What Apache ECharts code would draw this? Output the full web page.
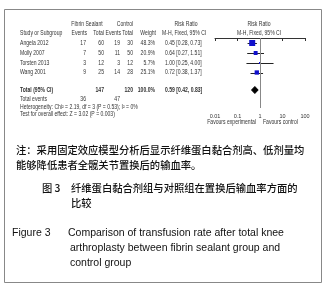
<!DOCTYPE html>
<html><head><meta charset="utf-8">
<script src="https://cdn.jsdelivr.net/npm/echarts@6/dist/echarts.min.js"></script>
<style>html,body{margin:0;padding:0;background:#fff}#c{width:328px;height:287px}</style>
</head><body><div id="c"></div>
<script>
// ---- data ----
const studies = ['Angela 2012', 'Molly 2007', 'Torsten 2013', 'Wang 2001'];
const fsEvents = [17, 7, 3, 9];
const fsTotal = [60, 50, 12, 25];
const ctlEvents = [19, 11, 3, 14];
const ctlTotal = [30, 50, 12, 28];
const weights = [48.3, 20.9, 5.7, 25.1];
const rr = [0.45, 0.64, 1.00, 0.72];
const ciLow = [0.28, 0.27, 0.25, 0.38];
const ciHigh = [0.73, 1.51, 4.00, 1.37];
const studyRows = [0.5, 1.5, 2.5, 3.45];
const totalRow = 5.2;
const totalEst = [0.59, 0.42, 0.83];
const totalFS = 147, totalCtl = 120, totalEventsFS = 36, totalEventsCtl = 47;
const tickLabels = ['0.01', '0.1', '1', '10', '100'];
const hetText = 'Heterogeneity: Chi² = 2.19, df = 3 (P = 0.53); I² = 0%';
const testText = 'Test for overall effect: Z = 3.02 (P = 0.003)';
const noteLines = ['注：采用固定效应模型分析后显示纤维蛋白黏合剂高、低剂量均', '能够降低患者全髋关节置换后的输血率。'];
const captionCN = ['图 3', '纤维蛋白黏合剂组与对照组在置换后输血率方面的', '比较'];
const captionEN = ['Figure 3', 'Comparison of transfusion rate after total knee', 'arthroplasty between fibrin sealant group and', 'control group'];

// ---- layout ----
const F = '"Liberation Sans", Arial, sans-serif';
const FS = 6.5;
const SX = 0.78;
const TC = '#333';
const GRID_TOP = 38, ROW_PX = 10;
const rowY = r => GRID_TOP + r * ROW_PX;

const g = [];
function t(text, x, y, align, opts, sx) {
  g.push({type: 'text', x: x, y: y, scaleX: sx == null ? SX : sx, style: Object.assign({
    text: text, fill: TC, font: FS + 'px ' + F, textAlign: align || 'left', textVerticalAlign: 'middle'
  }, (opts || {}))});
}
// headers
t('Fibrin Sealant', 87, 24, 'center');
t('Control', 125, 24, 'center');
t('Risk Ratio', 186, 24, 'center');
t('Risk Ratio', 259, 24, 'center');
t('Study or Subgroup', 20, 33);
t('Events', 87, 33, 'right');
t('Total', 104, 33, 'right');
t('Events', 121, 33, 'right');
t('Total', 133, 33, 'right');
t('Weight', 156, 33, 'right');
t('M-H, Fixed, 95% CI', 162, 33);
t('M-H, Fixed, 95% CI', 259, 33, 'center');
const f2 = v => v.toFixed(2);
studies.forEach((s, i) => {
  const y = rowY(studyRows[i]);
  t(s, 20, y);
  t(String(fsEvents[i]), 86, y, 'right');
  t(String(fsTotal[i]), 104, y, 'right');
  t(String(ctlEvents[i]), 120, y, 'right');
  t(String(ctlTotal[i]), 133, y, 'right');
  t(weights[i].toFixed(1) + '%', 155, y, 'right');
  t(f2(rr[i]) + ' [' + f2(ciLow[i]) + ', ' + f2(ciHigh[i]) + ']', 165, y);
});
const ty = rowY(totalRow);
const bold = {font: 'bold ' + FS + 'px ' + F};
t('Total (95% CI)', 20, ty, 'left', bold);
t(String(totalFS), 104, ty, 'right', bold);
t(String(totalCtl), 133, ty, 'right', bold);
t('100.0%', 155, ty, 'right', bold);
t(f2(totalEst[0]) + ' [' + f2(totalEst[1]) + ', ' + f2(totalEst[2]) + ']', 165, ty, 'left', bold);
t('Total events', 20, 99);
t(String(totalEventsFS), 86, 99, 'right');
t(String(totalEventsCtl), 120, 99, 'right');
t(hetText, 20, 107);
t(testText, 20, 114);
t('Favours experimental', 256, 122, 'right');
t('Favours control', 263, 122, 'left');

// notes & captions
const CJK = '"Noto Sans CJK SC", sans-serif';
const cn = {font: '500 10.3px ' + CJK, fill: '#111'};
t(noteLines[0], 16, 150, 'left', cn, 1);
t(noteLines[1], 16, 165, 'left', cn, 1);
t(captionCN[0], 42, 188, 'left', cn, 1);
t(captionCN[1], 71, 188, 'left', cn, 1);
t(captionCN[2], 71, 203, 'left', cn, 1);
const en = {font: '10.5px "Liberation Sans", Arial, sans-serif', fill: '#111'};
t(captionEN[0], 12, 233, 'left', en, 1);
t(captionEN[1], 68, 233, 'left', en, 1);
t(captionEN[2], 70, 248, 'left', en, 1);
t(captionEN[3], 70, 263, 'left', en, 1);
// frame
g.push({type: 'rect', shape: {x: 4.5, y: 9.5, width: 317, height: 273}, style: {fill: 'none', stroke: '#888', lineWidth: 1}});

const studyData = studies.map((s, i) => [rr[i], studyRows[i], ciLow[i], ciHigh[i], weights[i]]);
const maxW = Math.max.apply(null, weights);

const chart = echarts.init(document.getElementById('c'), null, {renderer: 'canvas'});
chart.setOption({
  animation: false,
  backgroundColor: '#fff',
  grid: {left: 215, width: 90, top: GRID_TOP, height: 70},
  xAxis: {
    type: 'log', logBase: 10, min: 0.01, max: 100,
    axisLine: {show: true, lineStyle: {color: '#333', width: 1}},
    axisTick: {show: true, length: 3, lineStyle: {color: '#333'}},
    splitLine: {show: false},
    axisLabel: {fontSize: 5.5, fontFamily: F, color: TC, margin: 5,
      formatter: v => { const k = Math.round(Math.log10(v)) + 2; return tickLabels[k] || ''; }}
  },
  yAxis: {type: 'value', min: 0, max: 7, inverse: true, show: false},
  series: [
    {
      type: 'custom', data: studyData, clip: false,
      renderItem: (params, api) => {
        const y = api.value(1);
        const p = api.coord([api.value(0), y]);
        const a = api.coord([api.value(2), y]);
        const b = api.coord([api.value(3), y]);
        const s = 6 * Math.sqrt(api.value(4) / maxW);
        return {type: 'group', children: [
          {type: 'line', shape: {x1: a[0], y1: Math.round(p[1]) + 0.5, x2: b[0], y2: Math.round(p[1]) + 0.5}, style: {stroke: '#222', lineWidth: 1}},
          {type: 'rect', shape: {x: p[0] - s / 2, y: p[1] - s / 2, width: s, height: s}, style: {fill: '#1010cc'}}
        ]};
      },
      markLine: {silent: true, symbol: 'none', label: {show: false},
        lineStyle: {color: '#888', type: 'solid', width: 1}, data: [{xAxis: 1}]}
    },
    {
      type: 'custom', data: [[totalEst[0], totalRow, totalEst[1], totalEst[2]]], clip: false,
      renderItem: (params, api) => {
        const y = api.value(1);
        const p = api.coord([api.value(0), y]);
        const a = api.coord([api.value(2), y]);
        const b = api.coord([api.value(3), y]);
        return {type: 'polygon', shape: {points: [[a[0], p[1]], [p[0], p[1] - 3.5], [b[0], p[1]], [p[0], p[1] + 3.5]]},
          style: {fill: '#000', stroke: '#000', lineWidth: 1}};
      }
    }
  ],
  graphic: g
});
</script></body></html>
